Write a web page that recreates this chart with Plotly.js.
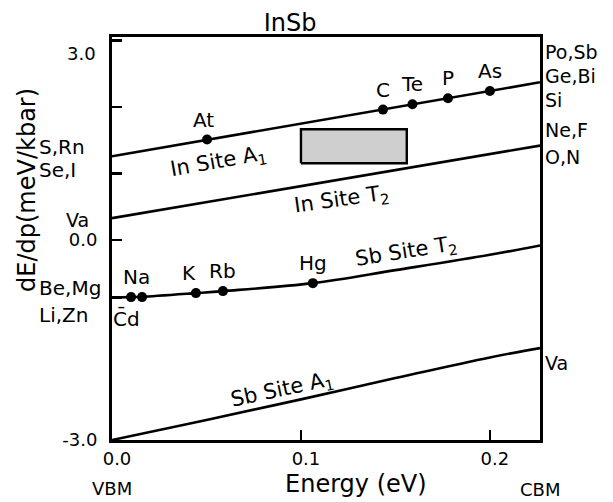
<!DOCTYPE html>
<html><head><meta charset="utf-8">
<script src="https://cdn.plot.ly/plotly-3.0.1.min.js"></script>
<style>body{margin:0;background:#fff}#chart{width:613px;height:502px}</style>
</head><body><div id="chart"></div>
<script>
// ---- data (energy in eV, dE/dp in meV/kbar) ----
const xMax = 0.2265;
const inA1X = [0, 0.2265];
const inA1Y = [1.26, 2.37];
const inT2X = [0, 0.2265];
const inT2Y = [0.33, 1.42];
const sbT2X = [0, 0.0101, 0.0159, 0.0444, 0.0587, 0.1063, 0.15, 0.2, 0.2265];
const sbT2Y = [-0.86, -0.855, -0.85, -0.795, -0.765, -0.645, -0.45, -0.22, -0.08];
const sbA1X = [0, 0.05, 0.1, 0.15, 0.2, 0.2265];
const sbA1Y = [-3.0, -2.7, -2.39, -2.07, -1.76, -1.62];

const inA1Names = ['At', 'C', 'Te', 'P', 'As'];
const inA1DotX = [0.0503, 0.1434, 0.159, 0.1778, 0.2];
const inA1DotY = [1.51, 1.96, 2.04, 2.13, 2.24];

const sbT2DotX = [0.0101, 0.0159, 0.0444, 0.0587, 0.1063];
const sbT2DotY = [-0.855, -0.855, -0.795, -0.765, -0.645];
const sbT2Names = ['Na', 'K', 'Rb', 'Hg'];
const sbT2NameX = [0.013, 0.041, 0.0587, 0.1063];
const sbT2NameY = [-0.855, -0.795, -0.765, -0.645];

const boxX = [0.1, 0.156];
const boxY = [1.155, 1.665];

const leftNames = ['S,Rn', 'Se,I', 'Be,Mg', 'Li,Zn'];
const leftY = [1.40, 1.05, -0.72, -1.125];
const leftVaY = 0.31;
const cdLabel = 'C\u0304d';
const cdX = 0.0079, cdY = -1.17;

const rightNames = ['Po,Sb', 'Ge,Bi', 'Si', 'Ne,F', 'O,N', 'Va'];
const rightY = [2.83, 2.47, 2.11, 1.65, 1.245, -1.845];

const siteLabels = ['In Site A<sub>1</sub>', 'In Site T<sub>2</sub>', 'Sb Site T<sub>2</sub>', 'Sb Site A<sub>1</sub>'];
const siteX = [0.0561, 0.1212, 0.1556, 0.09];
const siteY = [1.17, 0.60, -0.18, -2.25];
const siteAngle = [-10, -8, -9, -12];

const xTicks = [0, 0.1, 0.2];
const xTickText = ['0.0', '0.1', '0.2'];
const yTicks = [-3, -0.86, 0, 1, 2, 3];
const yTickText = ['-3.0', '', '0.0', '', '', ''];

// ---- chart ----
const F = 'DejaVu Sans, Liberation Sans, sans-serif';
const black = '#000';
const line = (x, y, shape) => ({x, y, type: 'scatter', mode: 'lines', line: {color: black, width: 2.6, shape: shape || 'linear'}, hoverinfo: 'skip'});

const traces = [
  line(inA1X, inA1Y),
  line(inT2X, inT2Y),
  line(sbT2X, sbT2Y, 'spline'),
  line(sbA1X, sbA1Y, 'spline'),
  {x: [boxX[0], boxX[1], boxX[1], boxX[0], boxX[0]], y: [boxY[0], boxY[0], boxY[1], boxY[1], boxY[0]],
   type: 'scatter', mode: 'lines', fill: 'toself', fillcolor: '#cfcfcf', line: {color: black, width: 2.4}},
  {x: inA1DotX, y: inA1DotY, type: 'scatter', mode: 'markers', marker: {color: black, size: 10}},
  {x: sbT2DotX, y: sbT2DotY, type: 'scatter', mode: 'markers', marker: {color: black, size: 10}}
];

const ann = [];
const txt = (o) => Object.assign({showarrow: false, xanchor: 'center', yanchor: 'middle', font: {family: F, size: 20, color: black}}, o);
inA1Names.forEach((n, i) => ann.push(txt({x: inA1DotX[i], y: inA1DotY[i], text: n, yshift: 20, xshift: i === 0 ? -4 : 0})));
sbT2Names.forEach((n, i) => ann.push(txt({x: sbT2NameX[i], y: sbT2NameY[i], text: n, yshift: 20})));
leftNames.forEach((n, i) => ann.push(txt({xref: 'paper', x: -0.175, xanchor: 'left', y: leftY[i], text: n})));
ann.push(txt({xref: 'paper', x: -0.049, xanchor: 'right', y: leftVaY, text: 'Va', font: {family: F, size: 19, color: black}}));
ann.push(txt({x: cdX, y: cdY, text: cdLabel}));
rightNames.forEach((n, i) => ann.push(txt({x: xMax, xanchor: 'left', xshift: 3, y: rightY[i], text: n, font: {family: F, size: 19, color: black}})));
siteLabels.forEach((n, i) => ann.push(txt({x: siteX[i], y: siteY[i], text: n, textangle: siteAngle[i], font: {family: F, size: 21, color: black}})));
ann.push(txt({xref: 'paper', x: 0, xanchor: 'right', xshift: -14, y: 3.0, yshift: -13, text: '3.0', font: {family: F, size: 18, color: black}}));
ann.push(txt({x: 0, yref: 'paper', y: -0.12, text: 'VBM', font: {family: F, size: 18, color: black}}));
ann.push(txt({x: xMax, yref: 'paper', y: -0.122, text: 'CBM', font: {family: F, size: 18, color: black}}));
ann.push(txt({xref: 'paper', x: 0.570, yref: 'paper', y: -0.11, text: 'Energy (eV)', font: {family: F, size: 24, color: black}}));
ann.push(txt({xref: 'paper', x: -0.199, yref: 'paper', y: 0.62, text: 'dE/dp(meV/kbar)', textangle: -90, font: {family: F, size: 24, color: black}}));

const axisBase = {showline: true, linecolor: black, linewidth: 3, mirror: true, showgrid: false, zeroline: false,
  ticks: 'inside', ticklen: 10, tickwidth: 2.5, tickcolor: black, tickfont: {family: F, size: 18, color: black}, fixedrange: true};

const layout = {
  width: 613, height: 502,
  margin: {l: 112, r: 73, t: 37, b: 62},
  paper_bgcolor: '#fff', plot_bgcolor: '#fff',
  showlegend: false,
  title: {text: 'InSb', font: {family: F, size: 24, color: black}, xref: 'paper', x: 0.416, xanchor: 'center', y: 0.954, yanchor: 'middle'},
  xaxis: Object.assign({}, axisBase, {range: [0, xMax], tickvals: xTicks, ticktext: xTickText, ticklabelstandoff: 0, ticklabelshift: 5}),
  yaxis: Object.assign({}, axisBase, {range: [-3, 3.05], tickvals: yTicks, ticktext: yTickText, ticklabelstandoff: 8}),
  annotations: ann
};

Plotly.newPlot('chart', traces, layout, {staticPlot: true});
</script>
</body></html>
